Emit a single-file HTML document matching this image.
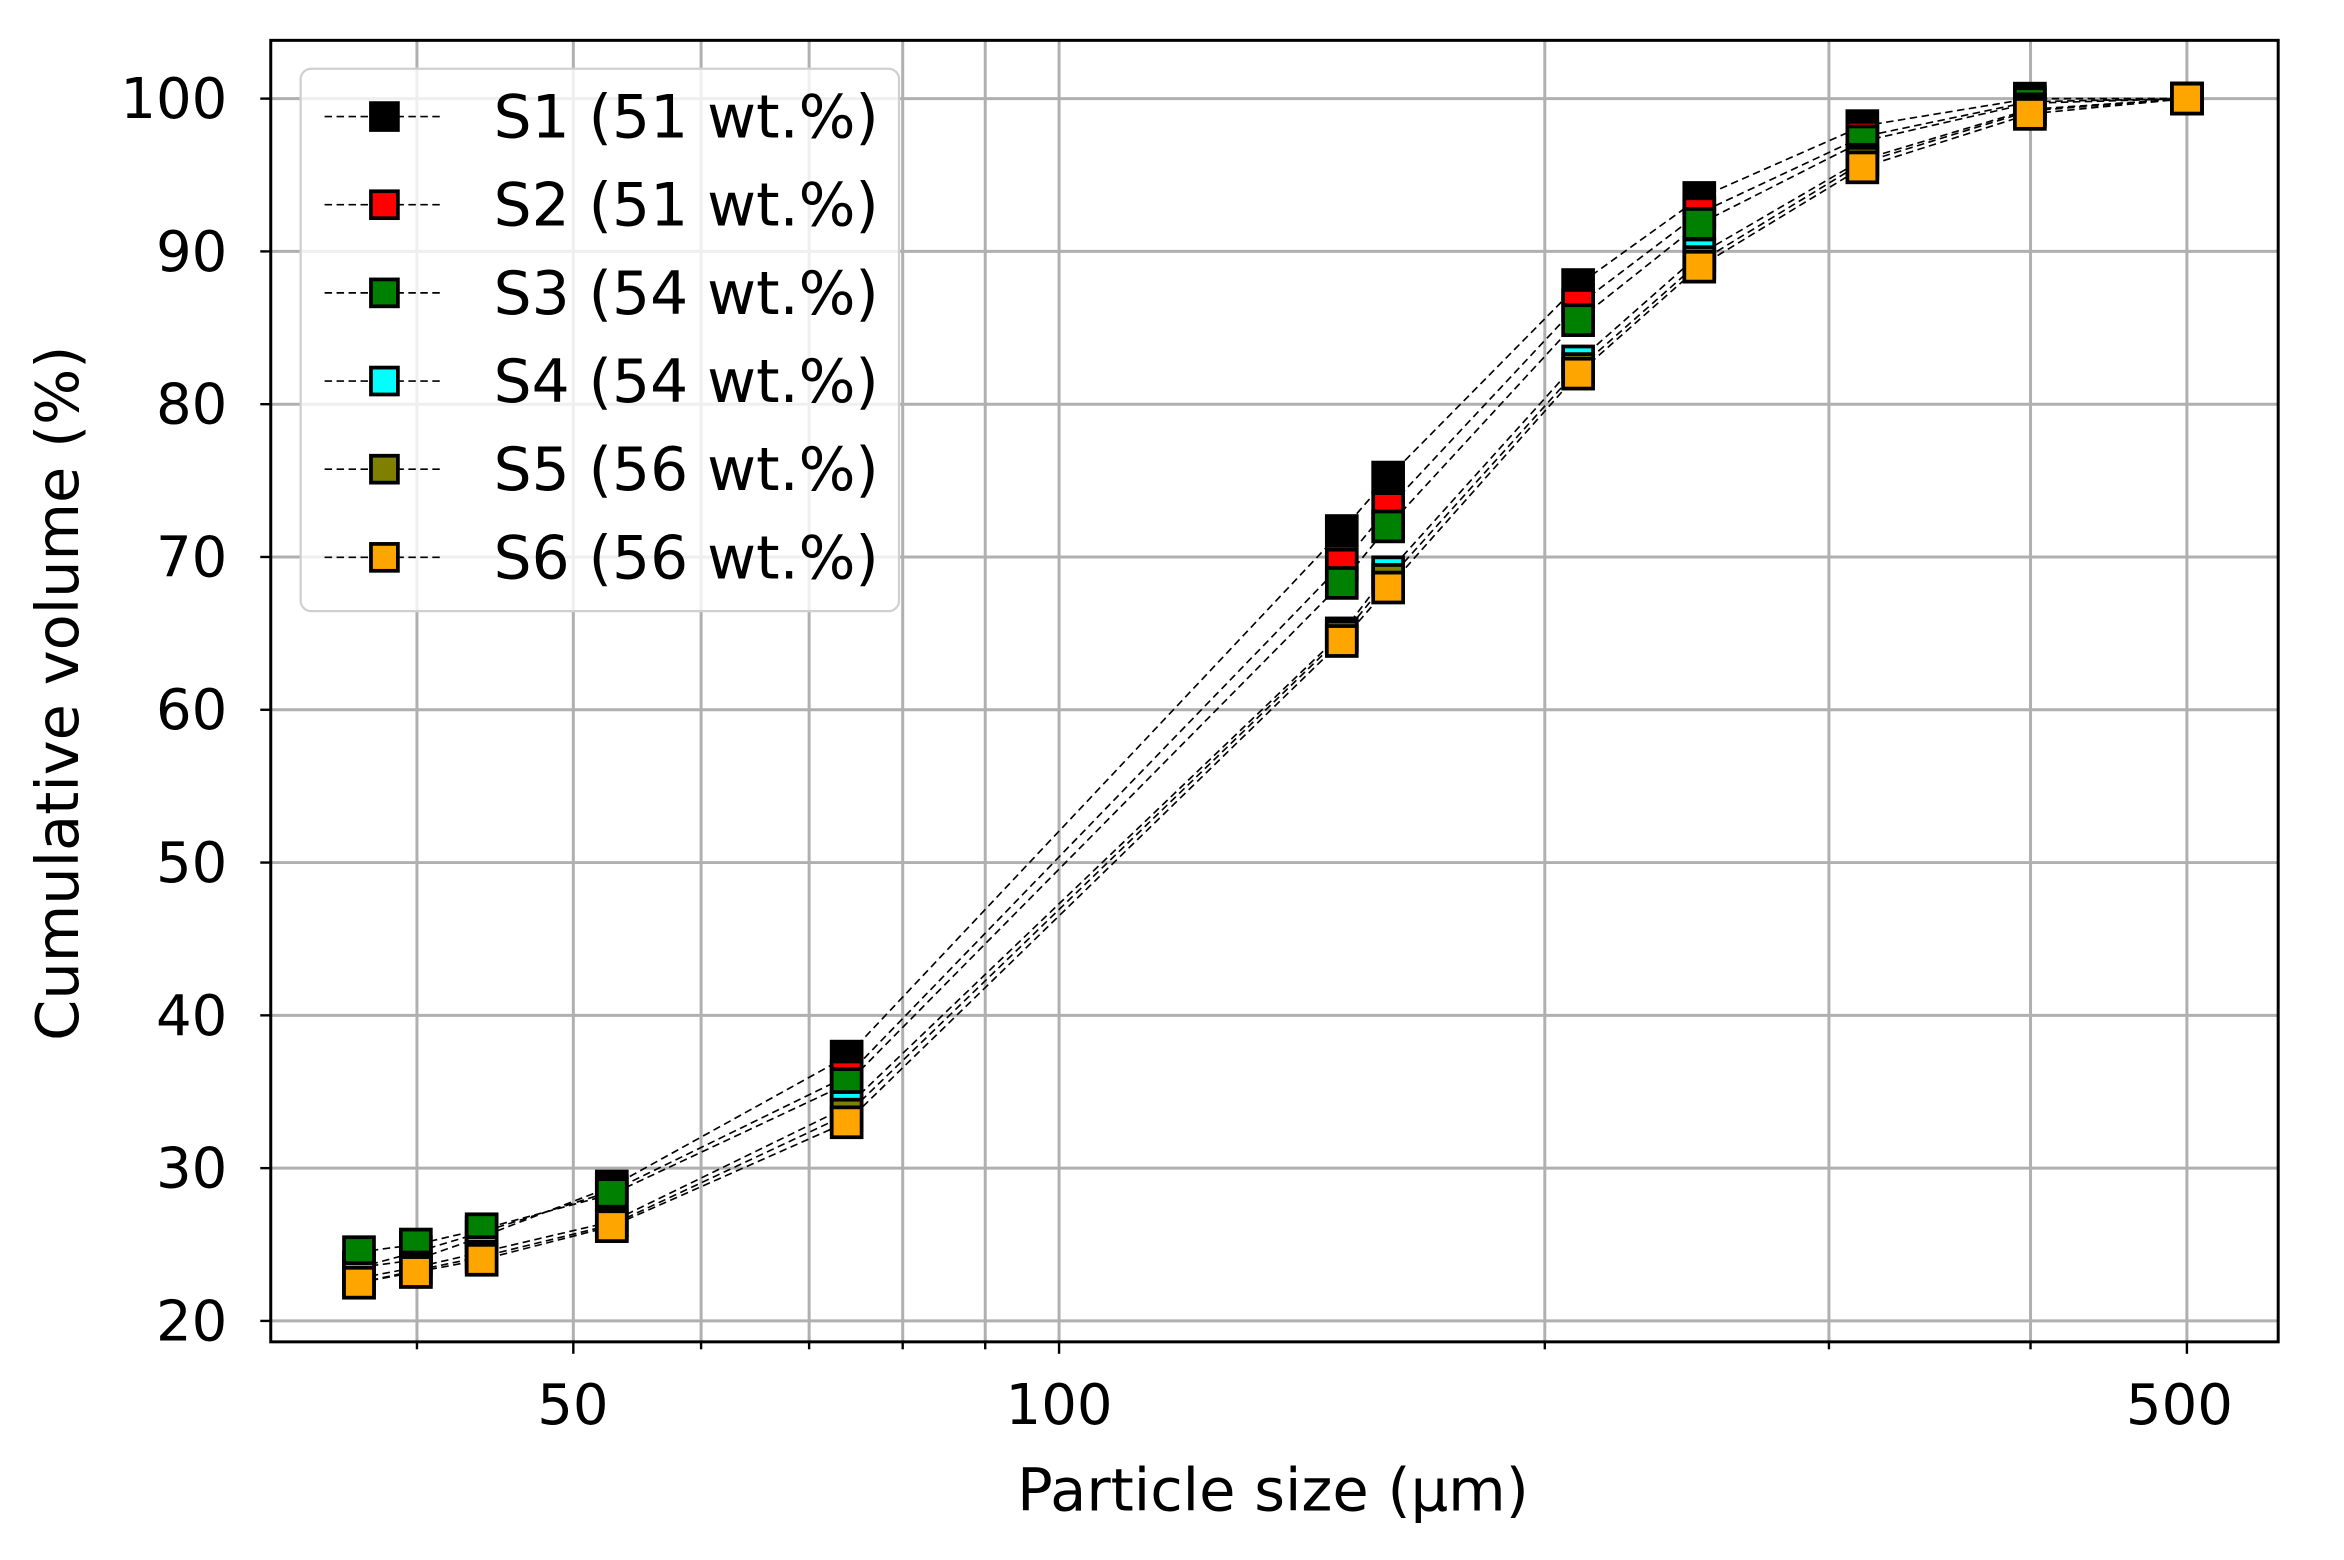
<!DOCTYPE html>
<html><head><meta charset="utf-8"><style>html,body{margin:0;padding:0;background:#fff}svg{display:block}</style></head>
<body>
<svg id="s" width="2344" height="1560" viewBox="0 0 1567 1044" preserveAspectRatio="none" xmlns="http://www.w3.org/2000/svg" font-family="DejaVu Sans, Liberation Sans, sans-serif">
<g id="grid" stroke="#b0b0b0" stroke-width="2"></g>
<g id="lines" fill="none" stroke="#000" stroke-width="1.1" stroke-dasharray="5,3"></g>
<g id="marks" stroke="#000" stroke-width="2.5"></g>
<rect x="181" y="27" width="1342" height="871" fill="none" stroke="#000" stroke-width="2"/>
<g id="ticks" stroke="#000" stroke-width="1.6"></g>
<g id="tl" font-size="37.5" fill="#000"></g>
<text x="851" y="1011" font-size="39.5" text-anchor="middle">Particle size (µm)</text>
<text transform="translate(52,464) rotate(-90)" font-size="39.5" text-anchor="middle">Cumulative volume (%)</text>
<rect x="201" y="46" width="400" height="363" rx="7" fill="#fff" fill-opacity="0.8" stroke="#d0d0d0" stroke-width="1.5"/>
<g id="leg" font-size="40"></g>
</svg>
<script>
const NS="http://www.w3.org/2000/svg";
function el(p,t,a,txt){const e=document.createElementNS(NS,t);for(const k in a)e.setAttribute(k,a[k]);if(txt!==undefined)e.textContent=txt;document.getElementById(p).appendChild(e);return e;}
const X=v=>708+(Math.log10(v)-2)*1078.7, Y=v=>884-(v-20)*10.225;
[40,50,60,70,80,90,100,200,300,400,500].forEach(v=>{const x=X(v);el('grid','line',{x1:x,x2:x,y1:27,y2:898});el('ticks','line',{x1:x,x2:x,y1:898,y2:v==50||v==100||v==500?906:903});});
for(let v=20;v<=100;v+=10){const y=Y(v);el('grid','line',{x1:181,x2:1523,y1:y,y2:y});el('ticks','line',{x1:174,x2:181,y1:y,y2:y});el('tl','text',{x:152,y:y+13,'text-anchor':'end'},v);}
[[50,383],[100,708],[500,1457]].forEach(([v,x])=>el('tl','text',{x:x,y:953,'text-anchor':'middle'},v));
const xs=[240,278,322,409,566,897,928,1055,1136,1245,1357,1462];
const S=[
['#000000','S1 (51 wt.%)',[23.5,24,25.5,28.8,37.3,71.7,75.2,87.8,93.5,98.2,100,100]],
['#ff0000','S2 (51 wt.%)',[23.5,24.5,25.8,28.5,36,69.5,73.2,86.5,92.5,97.5,99.8,100]],
['#008000','S3 (54 wt.%)',[24.5,25,26,28.3,35.5,68.3,72,85.5,91.8,97.2,99.7,100]],
['#00ffff','S4 (54 wt.%)',[22.8,23.5,24.5,26.5,34,65,69,82.8,89.8,96,99.3,100]],
['#808000','S5 (56 wt.%)',[22.5,23.3,24.2,26.3,33.5,64.8,68.5,82.3,89.3,95.8,99.2,100]],
['#ffa500','S6 (56 wt.%)',[22.5,23.2,24,26.2,33,64.5,68,82,89,95.5,99,100]]];
S.forEach(([c,l,d],i)=>{
 el('lines','polyline',{points:d.map((v,j)=>xs[j]+','+Y(v)).join(' ')});
 d.forEach((v,j)=>el('marks','rect',{x:xs[j]-10,y:Y(v)-10,width:20,height:20,fill:c}));
 const y=78+i*59;
 el('leg','line',{x1:217,x2:297,y1:y,y2:y,stroke:'#000','stroke-width':1.1,'stroke-dasharray':'5,3'});
 el('leg','rect',{x:248,y:y-9,width:18,height:18,fill:c,stroke:'#000','stroke-width':2.5});
 el('leg','text',{x:330,y:y+14},l);
});
</script>
</body></html>
